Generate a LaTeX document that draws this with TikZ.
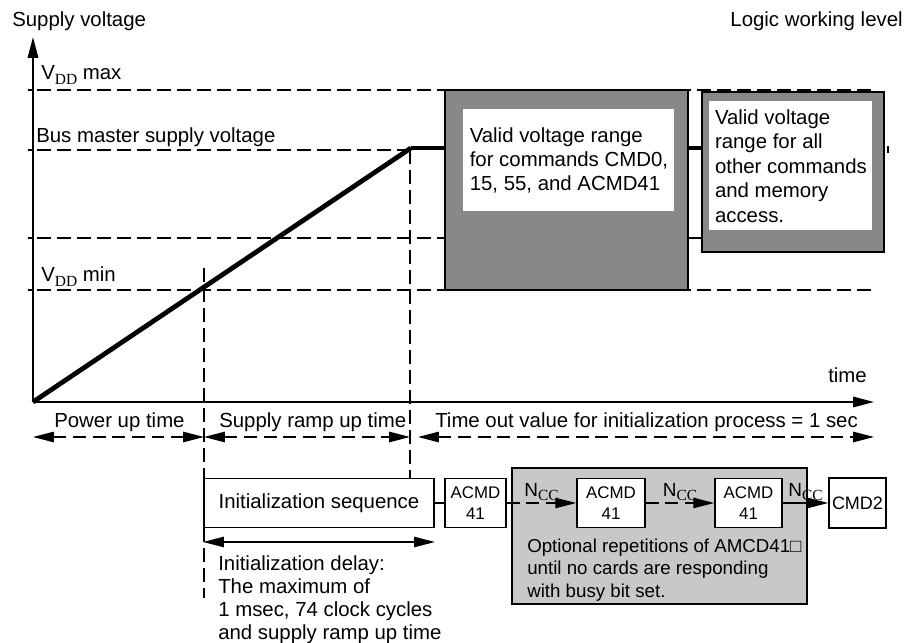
\documentclass[tikz,border=0pt]{standalone}
\usepackage{fontspec}
\setmainfont{Liberation Sans}
\newfontfamily\serifsub{Liberation Serif}
\usetikzlibrary{arrows.meta,positioning}
\definecolor{rangegray}{RGB}{136,136,136}
\definecolor{repgray}{RGB}{200,200,200}
\newcommand\lowsub[1]{\raisebox{-3pt}{\serifsub\fontsize{11}{11}\selectfont #1}}

\begin{document}
\begin{tikzpicture}[x=0.025cm,y=-0.025cm,
  every node/.style={font=\fontsize{14.5}{17.4}\selectfont,inner sep=0pt},
  >={Triangle[length=0.52cm,width=0.26cm]},
  axis/.style={line width=1.2pt},
  guide/.style={line width=0.9pt,dash pattern=on 0.34cm off 0.16cm},
  ramp/.style={line width=3.4pt},
  span/.style={<->,line width=0.9pt,dash pattern=on 0.32cm off 0.17cm},
  link/.style={line width=0.9pt},
  rangebox/.style={draw,line width=1.2pt,fill=rangegray},
  notebox/.style={fill=white,align=left},
  cmdbox/.style={draw,line width=1.2pt,fill=white,align=center,
    font=\fontsize{12}{14.9}\selectfont},
  ncc/.style={above=1pt,font=\fontsize{13.5}{15}\selectfont},
]
\useasboundingbox (0,0) rectangle (904,643);

% axes
\coordinate (O) at (33,402);
\coordinate (ytop) at (33,37);
\coordinate (xend) at (874,402);
\draw[axis,->] (O) -- (ytop);
\draw[axis,->] (O) -- (xend);
\node[anchor=base west] (ylab) at (12,27) {Supply voltage};
\node[anchor=base east] (lvlab) at (903,27) {Logic working level};
\node[anchor=base west] (tlab) at (828,383) {time};

% voltage levels
\coordinate (lmax) at (33,90);
\coordinate (lbus) at (33,150);
\coordinate (lmid) at (33,238);
\coordinate (lmin) at (33,290);
\foreach \lv in {90,150,238,290}
  \draw[axis] (28,\lv) -- (33,\lv);
\draw[guide] (37,90) -- (874,90);
\draw[guide] (37,150) -- (413,150);
\draw[guide] (37,238) -- (445,238);
\draw[guide] (37,290) -- (874,290);
\node[anchor=base west] (vmax) at (41,80) {V\lowsub{DD} max};
\node[anchor=base west] (vbus) at (36,143) {Bus master supply voltage};
\node[anchor=base west] (vmin) at (41,282) {V\lowsub{DD} min};

% time marks
\draw[guide] (204,268) -- (204,598);
\draw[guide] (410,150) -- (410,478);

% supply ramp
\coordinate (rtop) at (411,148);
\draw[ramp] (O) -- (rtop);

% valid ranges
\node[rangebox,minimum width=6.075cm,minimum height=5cm] (rangeA) at (566.5,190) {};
\node[rangebox,minimum width=4.55cm,minimum height=4cm] (rangeB) at (793,172) {};
\node[notebox,anchor=north west,minimum width=5.275cm,minimum height=2.55cm] (noteA)
  at ([shift={(19,20)}]rangeA.north west) {Valid voltage range\\for commands CMD0,\\15, 55, and ACMD41};
\node[notebox,anchor=north west,minimum width=4.075cm,minimum height=3.225cm] (noteB)
  at ([shift={(8,10)}]rangeB.north west) {Valid voltage\\range for all\\other commands\\and memory\\access.};
\draw[ramp] (rtop) -- (rtop -| rangeA.west);
\draw[ramp] (rangeA.east |- rtop) -- (rangeB.west |- rtop);
\draw[guide,solid] (rangeA.east |- lmid) -- (rangeB.west |- lmid);
\draw[link] (888,146) -- (888,153);

% time spans
\coordinate (tA) at (33,437);
\coordinate (tB) at (204,437);
\coordinate (tC) at (410,437);
\coordinate (tD) at (418,437);
\coordinate (tE) at (874,437);
\draw[span] (tA) -- (tB);
\draw[span] (tB) -- (tC);
\draw[span] (tD) -- (tE);
\node[anchor=base west] (pwr) at (54,428) {Power up time};
\node[anchor=base west] (rup) at (219,428) {Supply ramp up time};
\node[anchor=base west] (tout) at (435,428) {Time out value for initialization process = 1 sec};

% command sequence
\node[draw,line width=1.2pt,minimum width=5.75cm,minimum height=1.225cm] (initseq) at (319,503) {Initialization sequence};
\coordinate (dly) at (204,542);
\draw[<->,link] (initseq.west |- dly) -- (initseq.east |- dly);
\node[anchor=north west,align=left,font=\fontsize{14.5}{16.3}\selectfont] (delay) at (218,555.5)
  {Initialization delay:\\The maximum of\\1 msec, 74 clock cycles\\and supply ramp up time};

\node[draw,line width=1.2pt,fill=repgray,minimum width=7.375cm,minimum height=3.4cm] (optbox) at (659.5,536) {};
\node[anchor=north west,align=left,font=\fontsize{13.3}{16}\selectfont] (optnote) at (527,538.5)
  {Optional repetitions of AMCD41□\\until no cards are responding\\with busy bit set.};

\node[cmdbox,minimum width=1.525cm,minimum height=1.225cm] (acmdA) at (475.5,503) {ACMD\\41};
\node[cmdbox,minimum width=1.7cm,minimum height=1.225cm] (acmdB) at (611,503) {ACMD\\41};
\node[cmdbox,minimum width=1.675cm,minimum height=1.225cm] (acmdC) at (748.5,503) {ACMD\\41};
\node[cmdbox,minimum width=1.425cm,minimum height=1.25cm,font=\fontsize{12.8}{15}\selectfont] (cmdtwo) at (857.5,503) {CMD2};

\draw[link] (initseq.east) -- (acmdA.west);
\draw[->,link,dash pattern=on 0.32cm off 0.17cm] (acmdA.east) -- node[ncc] (nccA) {N\lowsub{CC}} (acmdB.west);
\draw[->,link,dash pattern=on 0.32cm off 0.17cm] (acmdB.east) -- node[ncc] (nccB) {N\lowsub{CC}} (acmdC.west);
\draw[->,link] (acmdC.east) -- node[ncc] (nccC) {N\lowsub{CC}} (cmdtwo.west);
\end{tikzpicture}
\end{document}
